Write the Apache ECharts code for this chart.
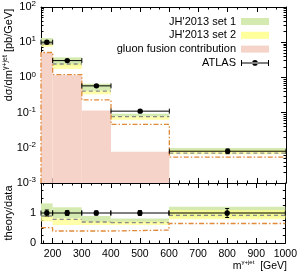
<!DOCTYPE html>
<html><head><meta charset="utf-8">
<script src="https://cdn.jsdelivr.net/npm/echarts@6/dist/echarts.min.js"></script>
<style>html,body{margin:0;padding:0;background:#fff}#c{width:300px;height:272px}</style>
</head><body><div id="c"></div>
<script>
// ---------- data ----------
const binEdges = [160, 200, 300, 400, 600, 1000];
const atlasX = [180, 250, 350, 500, 800];
const atlasMain = [10.0, 3.0, 0.575, 0.11, 0.008];
const atlasRelErr = [0.1, 0.08, 0.07, 0.08, 0.15];
const set1Lo = [8.1, 2.1, 0.42, 0.077, 0.0077];
const set1Hi = [13.1, 3.7, 0.66, 0.093, 0.0099];
const set2Lo = [7.4, 1.74, 0.33, 0.063, 0.0066];
const set2Hi = [9.6, 2.45, 0.42, 0.077, 0.0085];
const centralMain = [9.0, 2.4, 0.41, 0.077, 0.0071];
const ggfMain = [5.1, 1.15, 0.115, 0.0077, null];
const dashDotMain = [5.1, 1.2, 0.23, 0.046, 0.0054];
const ratioData = [1, 1, 1, 1, 1];
const ratioSet1Lo = [0.85, 0.82, 0.68, 0.68, 0.85];
const ratioSet1Hi = [1.32, 1.19, 0.9, 0.82, 1.21];
const ratioSet2Lo = [0.72, 0.6, 0.6, 0.6, 0.79];
const ratioSet2Hi = [0.92, 0.82, 0.72, 0.72, 1.1];
const ratioCentral = [0.9, 0.79, 0.7, 0.68, 0.92];
const ratioDashDot = [0.51, 0.4, 0.4, 0.43, 0.65];
const xTickLabels = [200, 300, 400, 500, 600, 700, 800, 900, 1000];
const ratioTickLabels = [0, 1];

// ---------- styles ----------
const FONT = 'Liberation Sans, Arial, Helvetica, sans-serif';
const C_SET1 = '#d4eab0';
const C_SET2 = 'rgba(255,255,140,0.75)';
const C_SET2_LEG = '#ffff9c';
const C_GGF = '#f6d3c9';
const C_DASH = '#8a8a8a';
const C_DD = '#e08a3a';

// minor tick positions (axis decoration only)
const xMinor = [];
for (let k = 0; k < 26; k++) { const v = 200 + (k - 1) * 100 / 3; if (v > 160 && v < 1000) xMinor.push(v); }
const yLogMinor = [];
for (let e = -3; e < 2; e++) for (let m = 2; m <= 9; m++) yLogMinor.push(e + Math.log10(m));
const rMinor = [0.25, 0.5, 0.75, 1.25, 1.5, 1.75];

function bins(lo, hi) {
  return lo.map((v, i) => [binEdges[i], binEdges[i + 1], v, hi[i]]);
}
function segs(vals) {
  return vals.map((v, i) => [binEdges[i], binEdges[i + 1], v]).filter(d => d[2] != null);
}
function steps(vals, startBottom) {
  const out = [];
  if (startBottom != null) out.push([binEdges[0], startBottom]);
  vals.forEach((v, i) => out.push([binEdges[i], v]));
  out.push([binEdges[binEdges.length - 1], vals[vals.length - 1]]);
  return out;
}

function bandRender(fill) {
  return function (params, api) {
    const p0 = api.coord([api.value(0), api.value(3)]);
    const p1 = api.coord([api.value(1), api.value(2)]);
    return { type: 'rect', shape: { x: p0[0], y: p0[1], width: p1[0] - p0[0], height: p1[1] - p0[1] }, style: { fill: fill } };
  };
}
function fillRender(fill) {
  return function (params, api) {
    const p0 = api.coord([api.value(0), api.value(2)]);
    const p1 = api.coord([api.value(1), api.value(2)]);
    const bottom = params.coordSys.y + params.coordSys.height;
    return { type: 'rect', shape: { x: p0[0], y: p0[1], width: p1[0] - p0[0], height: bottom - p0[1] }, style: { fill: fill } };
  };
}
function segRender(color, dash) {
  return function (params, api) {
    const p0 = api.coord([api.value(0), api.value(2)]);
    const p1 = api.coord([api.value(1), api.value(2)]);
    return { type: 'line', shape: { x1: p0[0], y1: p0[1], x2: p1[0], y2: p1[1] }, style: { stroke: color, lineWidth: 1.3, lineDash: dash } };
  };
}
function errRender(params, api) {
  const x0 = api.value(0), x1 = api.value(1), xc = api.value(2), y = api.value(3), e = api.value(4);
  const a = api.coord([x0, y]), b = api.coord([x1, y]), c = api.coord([xc, y]);
  const top = api.coord([xc, y + e]), bot = api.coord([xc, y - e]);
  const st = { stroke: '#000', lineWidth: 1 };
  const ch = [
    { type: 'line', shape: { x1: a[0], y1: a[1], x2: b[0], y2: b[1] }, style: st },
    { type: 'line', shape: { x1: a[0], y1: a[1] - 2.5, x2: a[0], y2: a[1] + 2.5 }, style: st },
    { type: 'line', shape: { x1: b[0], y1: b[1] - 2.5, x2: b[0], y2: b[1] + 2.5 }, style: st },
    { type: 'line', shape: { x1: c[0], y1: top[1], x2: c[0], y2: bot[1] }, style: st },
    { type: 'line', shape: { x1: c[0] - 2, y1: top[1], x2: c[0] + 2, y2: top[1] }, style: st },
    { type: 'line', shape: { x1: c[0] - 2, y1: bot[1], x2: c[0] + 2, y2: bot[1] }, style: st },
    { type: 'circle', shape: { cx: c[0], cy: c[1], r: 2.7 }, style: { fill: '#000' } }
  ];
  return { type: 'group', children: ch };
}

const atlasMainData = atlasMain.map((v, i) => [binEdges[i], binEdges[i + 1], atlasX[i], v, v * atlasRelErr[i]]);
const atlasRatioData = ratioData.map((v, i) => [binEdges[i], binEdges[i + 1], atlasX[i], v, atlasRelErr[i]]);

// ---------- axes ----------
const lineStyle = { color: '#000', width: 1 };
function xAx(grid, pos, ticks, len, labels, line) {
  return {
    type: 'value', gridIndex: grid, position: pos, min: 160, max: 1000,
    axisLine: { show: !!line, onZero: false, lineStyle },
    axisTick: { show: true, inside: true, length: len, customValues: ticks, lineStyle },
    axisLabel: labels ? { show: true, customValues: xTickLabels, formatter: v => String(v), fontSize: 10.5, color: '#000', fontFamily: FONT, margin: 6 } : { show: false },
    splitLine: { show: false }
  };
}
function yLog(pos, labels) {
  return {
    type: 'log', logBase: 10, gridIndex: 0, position: pos, min: 0.001, max: 100,
    axisLine: { show: true, onZero: false, lineStyle },
    axisTick: { show: true, inside: true, length: 5, lineStyle },
    axisLabel: labels ? {
      show: true, margin: 5, fontFamily: FONT, color: '#000',
      formatter: v => '{b|10}{s|' + Math.round(Math.log10(v)) + '}',
      rich: { b: { fontSize: 11, lineHeight: 14, fontFamily: FONT, color: '#000' }, s: { fontSize: 8, lineHeight: 8, verticalAlign: 'top', fontFamily: FONT, color: '#000' } }
    } : { show: false },
    splitLine: { show: false }
  };
}
function yLogMinorAx(pos) {
  return {
    type: 'value', gridIndex: 0, position: pos, min: -3, max: 2,
    axisLine: { show: false }, axisLabel: { show: false }, splitLine: { show: false },
    axisTick: { show: true, inside: true, length: 2.5, customValues: yLogMinor, lineStyle }
  };
}
function yR(pos, ticks, len, labels, line) {
  return {
    type: 'value', gridIndex: 1, position: pos, min: 0, max: 2, interval: 1,
    axisLine: { show: !!line, onZero: false, lineStyle },
    axisTick: { show: true, inside: true, length: len, customValues: ticks, lineStyle },
    axisLabel: labels ? { show: true, customValues: ratioTickLabels, fontSize: 11, color: '#000', fontFamily: FONT, margin: 5 } : { show: false },
    splitLine: { show: false }
  };
}

const opt = {
  animation: false,
  backgroundColor: '#fff',
  textStyle: { fontFamily: FONT },
  grid: [
    { left: 41, top: 6, width: 245, height: 177, show: false },
    { left: 41, top: 183, width: 245, height: 60, show: false }
  ],
  xAxis: [
    xAx(0, 'bottom', xTickLabels, 5, false, true),
    xAx(0, 'bottom', xMinor, 2.5, false, false),
    xAx(0, 'top', xTickLabels, 5, false, true),
    xAx(0, 'top', xMinor, 2.5, false, false),
    xAx(1, 'bottom', xTickLabels, 5, true, true),
    xAx(1, 'bottom', xMinor, 2.5, false, false),
    xAx(1, 'top', xTickLabels, 5, false, true),
    xAx(1, 'top', xMinor, 2.5, false, false)
  ],
  yAxis: [
    yLog('left', true),
    yLogMinorAx('left'),
    yLog('right', false),
    yLogMinorAx('right'),
    yR('left', [0, 1, 2], 5, true, true),
    yR('left', rMinor, 2.5, false, false),
    yR('right', [0, 1, 2], 5, false, true),
    yR('right', rMinor, 2.5, false, false)
  ],
  legend: {
    orient: 'vertical', right: 26, top: 11, align: 'right',
    itemWidth: 28, itemHeight: 7, itemGap: 2.8, selectedMode: false,
    textStyle: { fontSize: 11, color: '#000', fontFamily: FONT },
    data: [
      { name: "JH'2013 set 1", icon: 'rect', itemStyle: { color: C_SET1 } },
      { name: "JH'2013 set 2", icon: 'rect', itemStyle: { color: C_SET2_LEG } },
      { name: 'gluon fusion contribution', icon: 'rect', itemStyle: { color: C_GGF } },
      { name: 'ATLAS', icon: 'path://M0,3.5H28V4.5H0Z M0,1H1V7H0Z M27,1H28V7H27Z M11.2,4A2.8,2.8,0,1,0,16.8,4A2.8,2.8,0,1,0,11.2,4Z', itemStyle: { color: '#000' } }
    ]
  },
  graphic: [
    { type: 'text', x: 9, y: 55, rotation: Math.PI / 2, style: {
        text: '{a|dσ/dm}{s|γ+jet}{a| [pb/GeV]}', align: 'center', verticalAlign: 'middle',
        rich: { a: { fontSize: 11, lineHeight: 14, fontFamily: FONT, fill: '#000' }, s: { fontSize: 7, lineHeight: 7, verticalAlign: 'top', fontFamily: FONT, fill: '#000' } } } },
    { type: 'text', x: 9, y: 213, rotation: Math.PI / 2, style: {
        text: 'theory/data', align: 'center', verticalAlign: 'middle', fontSize: 11, fontFamily: FONT, fill: '#000' } },
    { type: 'text', x: 287, y: 266, style: {
        text: '{a|m}{s|γ+jet}{a|  [GeV]}', align: 'right', verticalAlign: 'middle',
        rich: { a: { fontSize: 10.5, lineHeight: 13, fontFamily: FONT, fill: '#000' }, s: { fontSize: 6, lineHeight: 6, verticalAlign: 'top', fontFamily: FONT, fill: '#000' } } } }
  ],
  series: [
    { name: 'gluon fusion contribution', type: 'custom', xAxisIndex: 0, yAxisIndex: 0, clip: true, itemStyle: { color: C_GGF },
      renderItem: fillRender(C_GGF), encode: { x: [0, 1], y: 2 }, data: segs(ggfMain), z: 1 },
    { name: "JH'2013 set 1", type: 'custom', xAxisIndex: 0, yAxisIndex: 0, clip: true, itemStyle: { color: C_SET1 },
      renderItem: bandRender(C_SET1), encode: { x: [0, 1], y: [2, 3] }, data: bins(set1Lo, set1Hi), z: 2 },
    { name: "JH'2013 set 2", type: 'custom', xAxisIndex: 0, yAxisIndex: 0, clip: true, itemStyle: { color: C_SET2_LEG },
      renderItem: bandRender(C_SET2), encode: { x: [0, 1], y: [2, 3] }, data: bins(set2Lo, set2Hi), z: 3 },
    { name: 'central', type: 'custom', xAxisIndex: 0, yAxisIndex: 0, clip: true,
      renderItem: segRender(C_DASH, [4, 3]), encode: { x: [0, 1], y: 2 }, data: segs(centralMain), z: 4 },
    { name: 'dashdot', type: 'line', xAxisIndex: 0, yAxisIndex: 0, step: 'end', symbol: 'none', clip: true,
      lineStyle: { color: C_DD, width: 1.3, type: [5, 2, 1.5, 2] }, data: steps(dashDotMain, 0.001), z: 4 },
    { name: 'ATLAS', type: 'custom', xAxisIndex: 0, yAxisIndex: 0, clip: false, itemStyle: { color: '#000' },
      renderItem: errRender, encode: { x: [0, 1, 2], y: 3 }, data: atlasMainData, z: 6 },

    { name: "JH'2013 set 1", type: 'custom', xAxisIndex: 4, yAxisIndex: 4, clip: true, itemStyle: { color: C_SET1 },
      renderItem: bandRender(C_SET1), encode: { x: [0, 1], y: [2, 3] }, data: bins(ratioSet1Lo, ratioSet1Hi), z: 2 },
    { name: "JH'2013 set 2", type: 'custom', xAxisIndex: 4, yAxisIndex: 4, clip: true, itemStyle: { color: C_SET2_LEG },
      renderItem: bandRender(C_SET2), encode: { x: [0, 1], y: [2, 3] }, data: bins(ratioSet2Lo, ratioSet2Hi), z: 3 },
    { name: 'central r', type: 'custom', xAxisIndex: 4, yAxisIndex: 4, clip: true,
      renderItem: segRender(C_DASH, [4, 3]), encode: { x: [0, 1], y: 2 }, data: segs(ratioCentral), z: 4 },
    { name: 'dashdot r', type: 'line', xAxisIndex: 4, yAxisIndex: 4, step: 'end', symbol: 'none', clip: true,
      lineStyle: { color: C_DD, width: 1.3, type: [5, 2, 1.5, 2] }, data: steps(ratioDashDot, null), z: 4 },
    { name: 'ATLAS', type: 'custom', xAxisIndex: 4, yAxisIndex: 4, clip: false, itemStyle: { color: '#000' },
      renderItem: errRender, encode: { x: [0, 1, 2], y: 3 }, data: atlasRatioData, z: 6 }
  ]
};
const chart = echarts.init(document.getElementById('c'), null, { renderer: 'canvas' });
chart.setOption(opt);
</script>
</body></html>
